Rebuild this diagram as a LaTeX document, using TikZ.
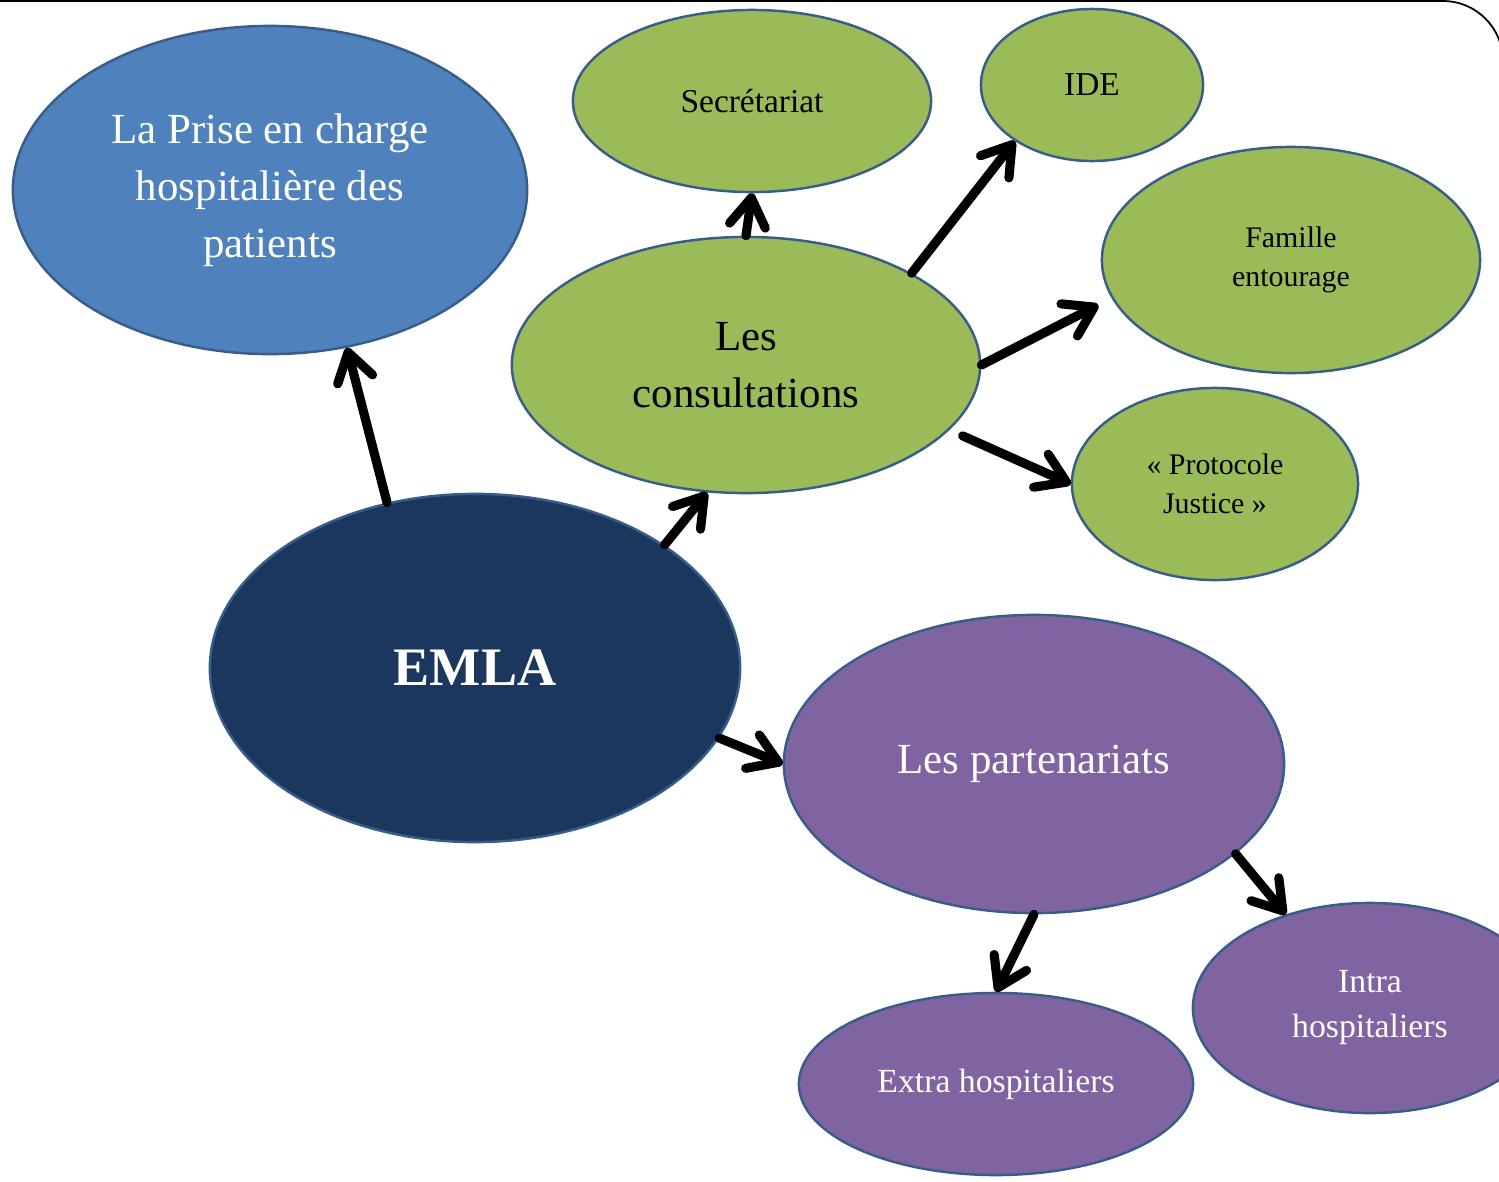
\documentclass[tikz,border=0pt]{standalone}
\usepackage{fontspec}
\setmainfont{Liberation Serif}
\usetikzlibrary{shapes.geometric,arrows.meta}
\definecolor{bluefill}{HTML}{4F81BD}
\definecolor{edgeblue}{HTML}{385D8A}
\definecolor{greenfill}{HTML}{9BBB59}
\definecolor{navyfill}{HTML}{1B375E}
\definecolor{purplefill}{HTML}{8064A2}
\tikzset{
  bubble/.style={ellipse, draw=edgeblue, line width=0.7pt, inner sep=0pt, align=center},
  link/.style={line width=2.6pt, -{Straight Barb[length=0.28cm,width=0.36cm,round]}, line cap=round},
  bigtext/.style={font=\fontsize{12.2}{16.2}\selectfont},
  smalltext/.style={font=\fontsize{9.5}{11.4}\selectfont},
  tinytext/.style={font=\fontsize{8.5}{11.2}\selectfont},
  midtext/.style={font=\fontsize{9.6}{12.8}\selectfont},
}
\begin{document}
\begin{tikzpicture}[x=0.01cm,y=-0.01cm]
\useasboundingbox (0,0) rectangle (1499,1181);
\begin{scope}
\clip (0,0) rectangle (1499,1181);
% page frame with rounded top-right corner
\draw[line width=0.5pt, rounded corners=0.6cm] (0,1) -- (1503,1) -- (1503,1181);

% bubbles
\node[bubble, fill=bluefill, text=white, bigtext, minimum width=5.14cm, minimum height=3.28cm]
  (prise) at (270,190) {La Prise en charge\\hospitalière des\\patients};
\node[bubble, fill=greenfill, smalltext, minimum width=3.58cm, minimum height=1.82cm]
  (secr) at (752,101) {Secrétariat};
\node[bubble, fill=greenfill, smalltext, minimum width=2.22cm, minimum height=1.52cm]
  (ide) at (1092,85) {IDE};
\node[bubble, fill=greenfill, bigtext, minimum width=4.68cm, minimum height=2.56cm]
  (consult) at (746,365) {Les\\consultations};
\node[bubble, fill=greenfill, tinytext, minimum width=3.78cm, minimum height=2.26cm]
  (famille) at (1291,260) {Famille\\entourage};
\node[bubble, fill=greenfill, tinytext, minimum width=2.86cm, minimum height=1.92cm]
  (protocole) at (1215,484) {« Protocole\\Justice »};
\node[bubble, fill=navyfill, text=white, font=\fontsize{15.4}{18}\selectfont\bfseries, minimum width=5.30cm, minimum height=3.48cm]
  (emla) at (475,668) {EMLA};
\node[bubble, fill=purplefill, text=white, bigtext, minimum width=5.00cm, minimum height=2.98cm]
  (parten) at (1034,764) {Les partenariats};
\node[bubble, fill=purplefill, text=white, midtext, minimum width=3.94cm, minimum height=1.82cm]
  (extra) at (996,1084) {Extra hospitaliers};
\node[bubble, fill=purplefill, text=white, midtext, minimum width=3.54cm, minimum height=2.10cm]
  (intra) at (1370,1008) {Intra\\hospitaliers};

% connectors
\draw[link] (emla.118) -- (prise.-64.5);
\draw[link] (emla.33) -- (consult.-107);
\draw[link] (emla.-16.6) -- (parten.west);
\draw[link] (consult.north) -- (secr.south);
\draw[link] (consult.29) -- (ide.-144.5);
\draw[link, shorten >=0.15cm] (consult.east) -- (famille.-168);
\draw[link] (consult.-18.5) ++(0.14cm,-0.05cm) -- (protocole.west);
\draw[link] (parten.south) -- (extra.north);
\draw[link] (parten.-24.5) -- (intra.132.5);
\end{scope}
\end{tikzpicture}
\end{document}
